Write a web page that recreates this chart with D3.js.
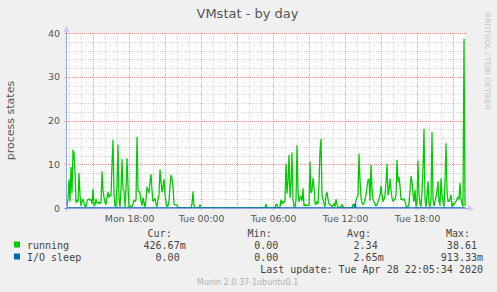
<!DOCTYPE html>
<html><head><meta charset="utf-8">
<script src="https://cdn.jsdelivr.net/npm/d3@7"></script>
<style>html,body{margin:0;padding:0;background:#f0f0f0;} svg{display:block}</style>
</head><body><svg id="c" width="497" height="292"></svg>
<script>
const title = "VMstat - by day";
const yLabel = "process states";
const yTicks = [0, 10, 20, 30, 40];
const startTime = Date.UTC(2020, 3, 27, 12, 52);
const endTime = Date.UTC(2020, 3, 28, 22, 12);
const sampleMinutes = 5;
// [sample index (5-minute steps from start), value]
const running = [
[0,0.3],[1,2],[2,6.5],[3,1.6],[4,9.3],[5,3.5],[6,13.2],[7,12.6],[8,8],[9,1.2],
[10,1.8],[11,1.5],[12,7.9],[13,3],[14,0.5],[15,1.6],[16,2],[17,1.2],[18,0.4],[19,0.3],
[20,1.5],[21,2],[22,2],[23,1.8],[24,1.9],[25,1],[26,4.3],[27,0.5],[28,0.8],[29,2],
[30,1.2],[31,1],[32,1.4],[33,1],[34,1.2],[35,8.3],[36,4],[37,2.4],[38,1.2],[39,0.8],
[40,2.5],[41,3.6],[42,2.4],[43,3],[44,2.8],[45,10],[46,15.5],[47,3],[48,0.5],[49,0.3],
[50,5],[51,14.4],[52,2],[53,0.3],[54,4],[55,11.1],[56,4.3],[57,4],[58,0.3],[59,4],
[60,11.3],[61,5],[62,0.3],[63,0.5],[64,0.4],[65,0.3],[66,1],[67,1.8],[68,1.5],[69,1.8],
[70,16.2],[71,4],[72,3.7],[73,3.5],[74,1.5],[75,0.6],[76,2.3],[77,1.2],[78,0.2],[79,2],
[80,4.8],[81,4],[82,3.5],[83,6],[84,7.7],[85,4],[86,1.5],[87,1.8],[88,2.2],[89,1],
[90,0.3],[91,2],[92,3],[93,8.7],[94,6],[95,3.7],[96,5],[97,6.5],[98,3],[99,1.3],
[100,0.3],[101,0.5],[102,1.5],[103,5],[104,7.5],[105,6.8],[106,5],[107,0.8],[108,0.7],[109,0.8],
[110,0.6],[111,0.1],[112,0],[124,0],[125,1],[126,3.7],[127,0.5],[128,0],[132,0],[133,0.7],
[134,0],[198,0],[199,0.9],[200,0],[208,0],[209,0.8],[210,0.8],[211,0],[213,0.2],[214,1.8],
[215,1],[216,1.5],[217,1.2],[218,1.6],[219,10],[220,3.4],[221,6],[222,12.1],[223,2.4],[224,5],
[225,12.6],[226,2],[227,0.3],[228,0.2],[229,2],[230,14.2],[231,4],[232,1.5],[233,2.2],[234,2.7],
[235,1.7],[236,4.4],[237,0.5],[238,0.8],[239,0.5],[240,0.7],[241,0.5],[242,0.7],[243,10.5],[244,3.5],
[245,4],[246,6.8],[247,4.8],[248,1],[249,0.8],[250,1.5],[251,1],[252,5.4],[253,13],[254,15.7],
[255,3],[256,2],[257,1],[258,0.3],[259,3],[260,3.6],[261,2],[262,1],[263,0.8],[264,0.5],
[265,0.3],[266,0.6],[267,1],[268,0.4],[269,1.9],[270,0.8],[271,0.2],[272,0],[273,0.3],[274,0.2],
[275,0.8],[276,0.3],[277,0],[285,0],[286,0.8],[287,0.8],[288,0.3],[289,1.8],[290,2.5],[291,3],
[292,12.3],[293,6.2],[294,2.5],[295,1.2],[296,0.8],[297,1],[298,2],[299,3],[300,4.8],[301,6.4],
[302,6.6],[303,1.8],[304,9.8],[305,4.5],[306,2],[307,1.5],[308,0.8],[309,0.5],[310,0.8],[311,1.5],
[312,2],[313,3],[314,5],[315,3],[316,1.5],[317,2],[318,3],[319,6],[320,10],[321,3],
[322,4],[323,6.6],[324,4],[325,2.3],[326,1.5],[327,1.8],[328,2],[329,3],[330,10.9],[331,6],
[332,7],[333,5],[334,2],[335,2],[336,1.8],[337,2.1],[338,1.5],[339,0.5],[340,0.2],[341,0.3],
[342,1.2],[343,4],[344,7.3],[345,6],[346,3],[347,1.5],[348,4.1],[349,0.3],[350,2],[351,10.7],
[352,3],[353,1],[354,0.3],[355,4],[356,9],[357,18],[358,2],[359,0.3],[360,3],[361,6],
[362,1],[363,0.3],[364,2],[365,17.3],[366,2],[367,0.5],[368,1.5],[369,2.5],[370,4],[371,6],
[372,1.5],[373,0.6],[374,6.7],[375,3],[376,1.5],[377,0.3],[378,6],[379,14.7],[380,4],[381,1.5],
[382,1.5],[383,2],[384,3],[385,0.3],[386,1],[387,0.8],[388,1.3],[389,1.5],[390,2],[391,2.5],
[392,2],[393,5.6],[394,2],[395,1],[396,0.4],[397,38.6],[398,0.43]
];
const ioSleep = [[0,0],[287,0],[288,0.91],[289,0],[398,0]];
const legendHeaders = ["Cur:", "Min:", "Avg:", "Max:"];
const seriesNames = ["running", "I/O sleep"];
const seriesColors = ["#00cc00", "#0066b3"];
const runningStats = ["426.67m", "0.00", "2.34", "38.61"];
const ioSleepStats = ["0.00", "0.00", "2.65m", "913.33m"];
const lastUpdate = "Last update: Tue Apr 28 22:05:34 2020";
const footer = "Munin 2.0.37-1ubuntu0.1";
const sideText = "RRDTOOL / TOBI OETIKER";

const svg = d3.select("#c");
const L = 67, R = 467, T = 33, B = 208;
const x = d3.scaleUtc().domain([startTime, endTime]).range([L, R]);
const y = d3.scaleLinear().domain([0, 40]).range([B, T]);
const tOf = k => new Date(startTime + k * sampleMinutes * 60000);
const px = v => Math.round(v) + 0.5;

svg.append("rect").attr("width", 497).attr("height", 292).attr("fill", "#f0f0f0");
svg.append("rect").attr("x", L).attr("y", T).attr("width", R - L).attr("height", B - T).attr("fill", "#ffffff");

// minor grid
const minorX = x.ticks(d3.utcHour.every(1)).filter(d => d.getUTCHours() % 3 !== 0);
const majorX = x.ticks(d3.utcHour.every(3));
const minorY = d3.range(0, 41, 2).filter(v => v % 10 !== 0);
const g = svg.append("g");
g.selectAll(".mx").data(minorX).enter().append("line")
  .attr("x1", d => px(x(d))).attr("x2", d => px(x(d))).attr("y1", T).attr("y2", B + 3)
  .attr("stroke", "#d6d6d6").attr("stroke-dasharray", "1,1");
g.selectAll(".my").data(minorY).enter().append("line")
  .attr("y1", d => px(y(d))).attr("y2", d => px(y(d))).attr("x1", L - 3).attr("x2", R)
  .attr("stroke", "#d6d6d6").attr("stroke-dasharray", "1,1");
g.selectAll(".Mx").data(majorX).enter().append("line")
  .attr("x1", d => px(x(d))).attr("x2", d => px(x(d))).attr("y1", T).attr("y2", B + 3)
  .attr("stroke", "#f09a9a").attr("stroke-dasharray", "1,1");
g.selectAll(".My").data(yTicks).enter().append("line")
  .attr("y1", d => px(y(d))).attr("y2", d => px(y(d))).attr("x1", L - 3).attr("x2", R)
  .attr("stroke", "#f09a9a").attr("stroke-dasharray", "1,1");

// data
const line = d3.line().x(d => x(tOf(d[0]))).y(d => y(d[1]));
svg.append("path").attr("d", line(running)).attr("fill", "none")
  .attr("stroke", seriesColors[0]).attr("stroke-width", 1.3).attr("stroke-linejoin", "round");
svg.append("path").attr("d", line(ioSleep)).attr("fill", "none")
  .attr("stroke", seriesColors[1]).attr("stroke-width", 1.3);

// axes
const axisColor = "#8fa4e0";
svg.append("line").attr("x1", L - 3).attr("x2", R + 3).attr("y1", B + 0.5).attr("y2", B + 0.5).attr("stroke", axisColor);
svg.append("line").attr("x1", L - 0.5).attr("x2", L - 0.5).attr("y1", B + 3).attr("y2", T - 3).attr("stroke", axisColor);
svg.append("path").attr("d", `M${L-3.5},${T-1}L${L+2.5},${T-1}L${L-0.5},${T-7}Z`).attr("fill", "#c4cff2");
svg.append("path").attr("d", `M${R+1},${B-2.5}L${R+1},${B+3.5}L${R+7},${B+0.5}Z`).attr("fill", "#c4cff2");

const font = "DejaVu Sans, sans-serif";
const mono = "DejaVu Sans Mono, monospace";
const txtCol = "#555";

// y tick labels
svg.selectAll(".yl").data(yTicks).enter().append("text")
  .attr("x", 60).attr("y", d => y(d) + 3.5).attr("text-anchor", "end")
  .attr("font-family", font).attr("font-size", 9.5).attr("fill", txtCol).text(d => d);

// x labels
const labelX = x.ticks(d3.utcHour.every(6));
const fmt = d3.utcFormat("%a %H:%M");
svg.selectAll(".xl").data(labelX).enter().append("text")
  .attr("x", d => x(d) + 1).attr("y", 221.5).attr("text-anchor", "middle")
  .attr("font-family", font).attr("font-size", 9.33).attr("fill", txtCol).text(d => fmt(d));

// title
svg.append("text").attr("x", 247.5).attr("y", 18).attr("text-anchor", "middle")
  .attr("font-family", font).attr("font-size", 13).attr("fill", txtCol).text(title);
// y label
svg.append("text").attr("transform", "translate(14,120.5) rotate(-90)").attr("text-anchor", "middle")
  .attr("font-family", font).attr("font-size", 11).attr("fill", txtCol).text(yLabel);
// side text
svg.append("text").attr("transform", "translate(485,13) rotate(90)").attr("text-anchor", "start")
  .attr("font-family", font).attr("font-size", 7.5).attr("fill", "#c4c4c4").text(sideText);

// legend
const hdrRight = [171.7, 271.7, 371, 470];
const valRight = [185.7, 284.3, 383.7, 483];
const cw = 6.02;
const legG = svg.append("g").attr("font-family", mono).attr("font-size", 10).attr("fill", "#444");
legendHeaders.forEach((h, i) => legG.append("text").attr("x", hdrRight[i]).attr("y", 236.5).attr("text-anchor", "end").text(h));
[runningStats, ioSleepStats].forEach((stats, r) => {
  const yy = 248.5 + r * 12;
  legG.append("rect").attr("x", 14).attr("y", yy - 7).attr("width", 6).attr("height", 6).attr("fill", seriesColors[r]);
  legG.append("text").attr("x", 27).attr("y", yy).text(seriesNames[r]);
  stats.forEach((s, i) => {
    const suffix = /[a-zA-Z]$/.test(s);
    legG.append("text").attr("x", valRight[i] - (suffix ? 0 : cw)).attr("y", yy).attr("text-anchor", "end").text(s);
  });
});
legG.append("text").attr("x", 483).attr("y", 272.5).attr("text-anchor", "end").text(lastUpdate);
svg.append("text").attr("x", 247.5).attr("y", 285).attr("text-anchor", "middle")
  .attr("font-family", font).attr("font-size", 8).attr("fill", "#b0b0b0").text(footer);
</script></body></html>
